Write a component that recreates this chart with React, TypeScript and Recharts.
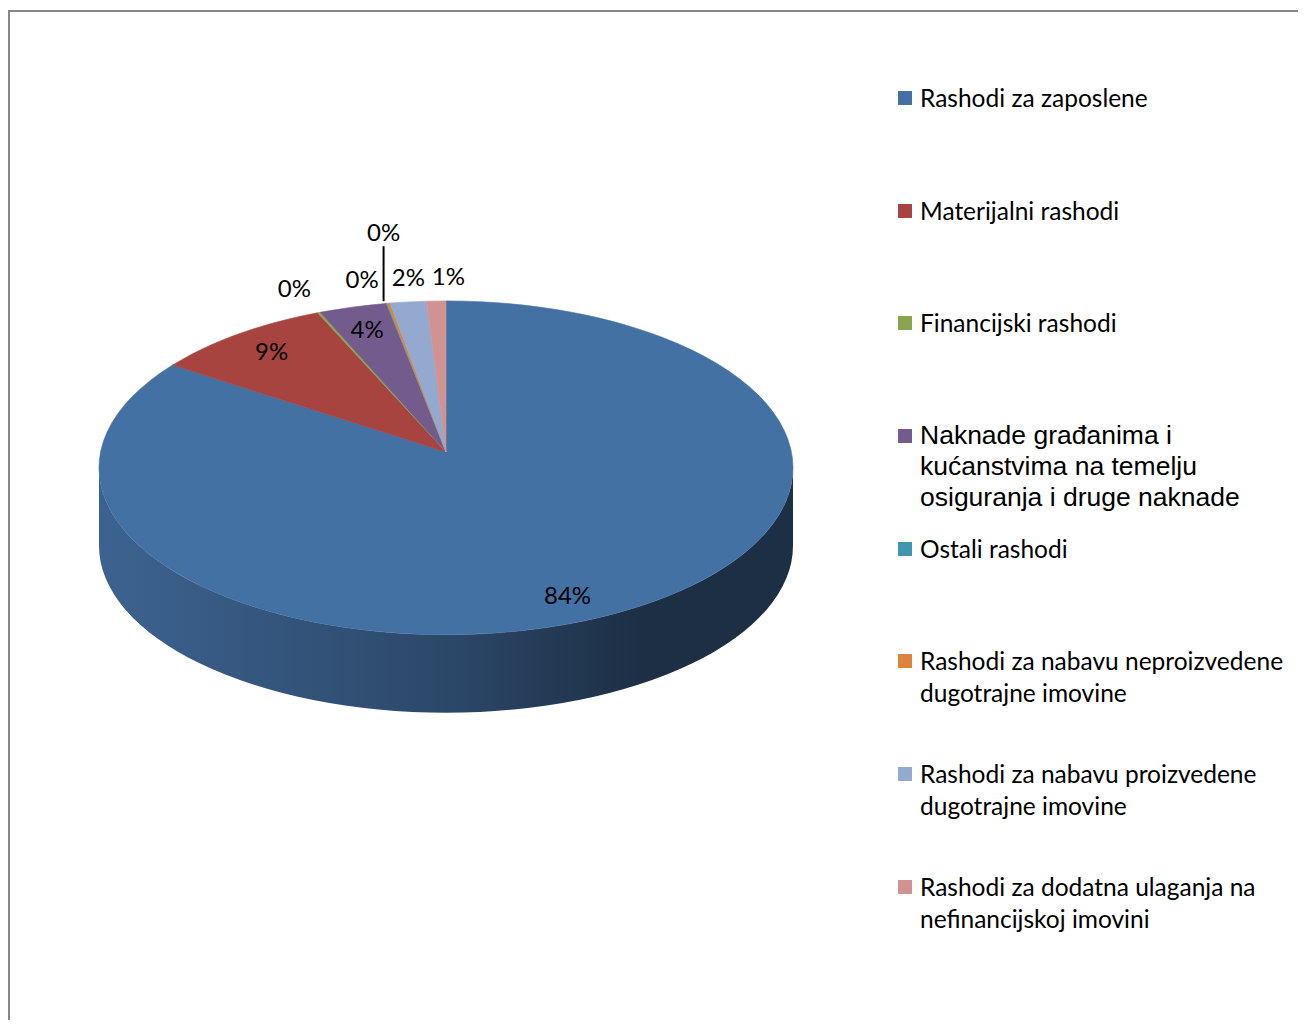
import { Cell, Legend, Pie, PieChart } from "recharts";

const categories = [
  "Rashodi za zaposlene",
  "Materijalni rashodi",
  "Financijski rashodi",
  "Naknade građanima i kućanstvima na temelju osiguranja i druge naknade",
  "Ostali rashodi",
  "Rashodi za nabavu neproizvedene dugotrajne imovine",
  "Rashodi za nabavu proizvedene dugotrajne imovine",
  "Rashodi za dodatna ulaganja na nefinancijskoj imovini",
];
const shares = [84.4, 8.6, 0.15, 3.6, 0.05, 0.15, 2.0, 1.05];
const colors = ["#4471a4", "#a7443f", "#89a54e", "#735b8e", "#3f97ae", "#dc843e", "#93a9cf", "#d19391"];

const data = categories.map((name, i) => ({ name, value: shares[i] }));
const total = shares.reduce((a, b) => a + b, 0);

const TILT = 0.481; // ry / rx of the tilted top face
const DEPTH = 78;
const DROP = 15.8; // ellipse centre sits below the apex (perspective)
const PERSPECTIVE = 4.5; // degrees the near half is stretched by
const FONT = "Lato, 'Open Sans', sans-serif";
const RAD = Math.PI / 180;

// recharts angle -> apparent angle on the tilted ellipse
const warp = (a: number) => a + PERSPECTIVE * Math.sin(2 * a * RAD);

// point on the rim; cx, cy is the apex
function rim(cx: number, cy: number, r: number, a: number): [number, number] {
  const w = warp(a);
  return [cx + r * Math.cos(w * RAD), cy + DROP - r * TILT * Math.sin(w * RAD)];
}

function shade(hex: string, k: number) {
  const n = parseInt(hex.slice(1), 16);
  const c = [(n >> 16) & 255, (n >> 8) & 255, n & 255].map((v) => Math.round(v * k));
  return `rgb(${c.join(",")})`;
}

function Slice3D(props: any) {
  const { cx, cy, outerRadius: r, startAngle, endAngle, fill, index } = props;
  const hi = Math.max(startAngle, endAngle);
  const lo = Math.min(startAngle, endAngle);
  const ry = r * TILT;
  const gid = `wall-${index}`;

  // front (visible) part of the side wall
  const walls: string[] = [];
  for (const [fLo, fHi] of [[-180, 0], [180, 360], [-540, -360]]) {
    const a = Math.max(lo, fLo);
    const b = Math.min(hi, fHi);
    if (b - a <= 0.01) continue;
    const m = (a + b) / 2;
    const [x1, y1] = rim(cx, cy, r, b);
    const [xm, ym] = rim(cx, cy, r, m);
    const [x2, y2] = rim(cx, cy, r, a);
    walls.push(
      `M${x1},${y1} A${r},${ry} 0 0 1 ${xm},${ym} A${r},${ry} 0 0 1 ${x2},${y2}` +
        ` L${x2},${y2 + DEPTH} A${r},${ry} 0 0 0 ${xm},${ym + DEPTH} A${r},${ry} 0 0 0 ${x1},${y1 + DEPTH} Z`,
    );
  }

  const [sx, sy] = rim(cx, cy, r, hi);
  const [ex, ey] = rim(cx, cy, r, lo);
  const large = warp(hi) - warp(lo) > 180 ? 1 : 0;
  const top = `M${cx},${cy} L${sx},${sy} A${r},${ry} 0 ${large} 1 ${ex},${ey} Z`;

  return (
    <g>
      <defs>
        <linearGradient id={gid} gradientUnits="userSpaceOnUse" x1={cx - r} y1={0} x2={cx + r} y2={0}>
          <stop offset="0" stopColor={shade(fill, 0.88)} />
          <stop offset="0.5" stopColor={shade(fill, 0.64)} />
          <stop offset="0.78" stopColor={shade(fill, 0.42)} />
          <stop offset="1" stopColor={shade(fill, 0.42)} />
        </linearGradient>
      </defs>
      {walls.map((d, i) => (
        <path key={i} d={d} fill={`url(#${gid})`} />
      ))}
      <path d={top} fill={fill} stroke={fill} strokeWidth={0.6} strokeLinejoin="round" />
    </g>
  );
}

const labelStyle = { fontFamily: FONT, fontSize: 24, fill: "#000" };
const isTiny = (i: number) => i >= 0 && shares[i] / total < 0.005;
const isInside = (i: number) => shares[i] / total >= 0.03;

function renderLabel(props: any) {
  const { cx, cy, midAngle, startAngle, outerRadius: r, percent, index } = props;
  const text = `${Math.round(percent * 100)}%`;
  if (percent >= 0.03) {
    const [bx, by] = rim(cx, cy, r, midAngle);
    const x = cx + 0.85 * (bx - cx);
    const y = cy + 0.85 * (by - cy);
    return (
      <text key={index} x={x} y={y} textAnchor="middle" dominantBaseline="central" {...labelStyle}>
        {text}
      </text>
    );
  }
  const [x, y] = rim(cx, cy, r, midAngle);
  // two tiny neighbours: lift the second one on a leader line
  if (isTiny(index) && isTiny(index - 1)) {
    return (
      <g key={index}>
        <line x1={x - 5} y1={y - 2} x2={x - 5} y2={y - 57} stroke="#000" strokeWidth={2} />
        <text x={x - 5} y={y - 72} textAnchor="middle" dominantBaseline="central" {...labelStyle}>
          {text}
        </text>
      </g>
    );
  }
  const side = (x - cx) / r;
  if (side < -0.15) {
    return (
      <text key={index} x={x - 8} y={y - 25} textAnchor="end" dominantBaseline="central" {...labelStyle}>
        {text}
      </text>
    );
  }
  // keep clear of the previous outside label
  let lx = x;
  const prev = index - 1;
  if (prev >= 0 && !isInside(prev) && !(isTiny(prev) && isTiny(prev - 1))) {
    const prevMid = startAngle + ((shares[prev] / total) * 360) / 2;
    const [px] = rim(cx, cy, r, prevMid);
    if (lx - px < 38) lx = px + 40;
  }
  return (
    <text key={index} x={lx} y={y - 25} textAnchor="middle" dominantBaseline="central" {...labelStyle}>
      {text}
    </text>
  );
}

function LegendList() {
  return (
    <div>
      {categories.map((name, i) => {
        // Excel left this one entry in Arial
        const arial = i === 3;
        return (
          <div key={name} style={{ height: 112.7, display: "flex", alignItems: "flex-start" }}>
            <div style={{ width: 14, height: 14, marginTop: 9, marginRight: 8, background: colors[i], flex: "none" }} />
            <div
              style={{
                width: 372,
                fontFamily: arial ? "'Liberation Sans', Arial, sans-serif" : FONT,
                fontSize: arial ? 26.5 : 24.5,
                lineHeight: arial ? "31px" : "32px",
                color: "#000",
              }}
            >
              {name}
            </div>
          </div>
        );
      })}
    </div>
  );
}

export default function App() {
  return (
    <div style={{ paddingTop: 2 }}>
      <div
        style={{
          width: 1288,
          height: 1008,
          borderTop: "2px solid #888",
          borderLeft: "2px solid #888",
          background: "#fff",
        }}
      >
        <PieChart width={1288} height={1008} margin={{ top: 0, right: 0, bottom: 0, left: 0 }}>
          <Pie
            data={data}
            dataKey="value"
            nameKey="name"
            cx={436}
            cy={440}
            outerRadius={347}
            startAngle={90}
            endAngle={-270}
            shape={Slice3D}
            label={renderLabel}
            labelLine={false}
            isAnimationActive={false}
          >
            {data.map((d, i) => (
              <Cell key={d.name} fill={colors[i]} />
            ))}
          </Pie>
          <Legend
            layout="vertical"
            align="right"
            verticalAlign="top"
            content={LegendList}
            wrapperStyle={{ left: 888, top: 70, width: 400 }}
          />
        </PieChart>
      </div>
    </div>
  );
}
